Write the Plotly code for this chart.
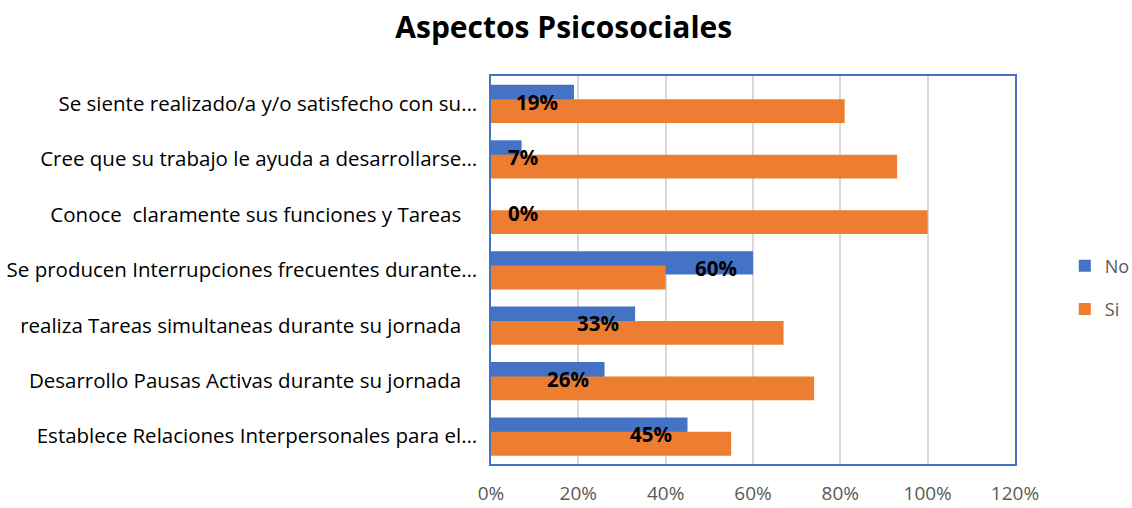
import plotly.graph_objects as go

# Survey items (top to bottom)
categories = [
    "Se siente realizado/a y/o satisfecho con su…",
    "Cree que su trabajo le ayuda a desarrollarse…",
    "Conoce\u00a0 claramente sus funciones y Tareas\u00a0\u00a0\u00a0",
    "Se producen Interrupciones frecuentes durante…",
    "realiza Tareas simultaneas durante su jornada\u00a0\u00a0\u00a0",
    "Desarrollo Pausas Activas durante su jornada\u00a0\u00a0\u00a0",
    "Establece Relaciones Interpersonales para el…",
]
no_pct = [19, 7, 0, 60, 33, 26, 45]
si_pct = [81, 93, 100, 40, 67, 74, 55]
x_ticks = [0, 20, 40, 60, 80, 100, 120]

BLUE = "#4472C4"
ORANGE = "#ED7D31"
GREY = "#595959"
FONT = "Open Sans"

fig = go.Figure()
fig.add_trace(go.Bar(
    name="No", y=categories, x=no_pct, orientation="h",
    marker=dict(color=BLUE, line=dict(width=0)),
    width=0.42, offset=-0.34, legendgroup="no",
))
fig.add_trace(go.Bar(
    name="Si", y=categories, x=si_pct, orientation="h",
    marker=dict(color=ORANGE, line=dict(width=0)),
    width=0.43, offset=-0.08, legendgroup="si",
))

# Value labels for the "No" series, inside the bar end (pushed right for short bars)
label_font = dict(family=FONT, size=20.5, color="black", weight="bold")
for cat, v in zip(categories, no_pct):
    if v < 15:
        fig.add_annotation(x=0, y=cat, text=f"{v}%", showarrow=False,
                           xanchor="left", xshift=15, yshift=2, font=label_font)
    else:
        fig.add_annotation(x=v, y=cat, text=f"{v}%", showarrow=False,
                           xanchor="right", xshift=-14, yshift=2, font=label_font)

fig.update_layout(
    width=1132, height=508,
    margin=dict(l=491, r=117, t=76, b=44, autoexpand=False),
    paper_bgcolor="white", plot_bgcolor="white",
    barmode="overlay",
    title=dict(text="<b>Aspectos Psicosociales</b>", x=0.498, xanchor="center",
               y=0.945, yanchor="middle",
               font=dict(family=FONT, size=30, color="black")),
    font=dict(family=FONT, color="black"),
    xaxis=dict(range=[0, 120], tickvals=x_ticks, ticktext=[f"{t}%" for t in x_ticks],
               showgrid=True, gridcolor="#D9D9D9", gridwidth=1.5,
               showline=True, linecolor=BLUE, linewidth=1.5, mirror=True,
               zeroline=False, ticks="", ticklabelstandoff=11,
               tickfont=dict(family=FONT, size=19, color=GREY)),
    yaxis=dict(autorange="reversed", showline=True, linecolor=BLUE, linewidth=1.5,
               mirror=True, showgrid=False, ticks="", ticklabelstandoff=8,
               tickfont=dict(family=FONT, size=20.5, color="black")),
    legend=dict(x=1.095, xanchor="left", y=0.455, yanchor="middle",
                traceorder="grouped", tracegroupgap=17,
                font=dict(family=FONT, size=18, color=GREY),
                itemwidth=30),
    showlegend=True,
)

fig.write_html("out.html")
